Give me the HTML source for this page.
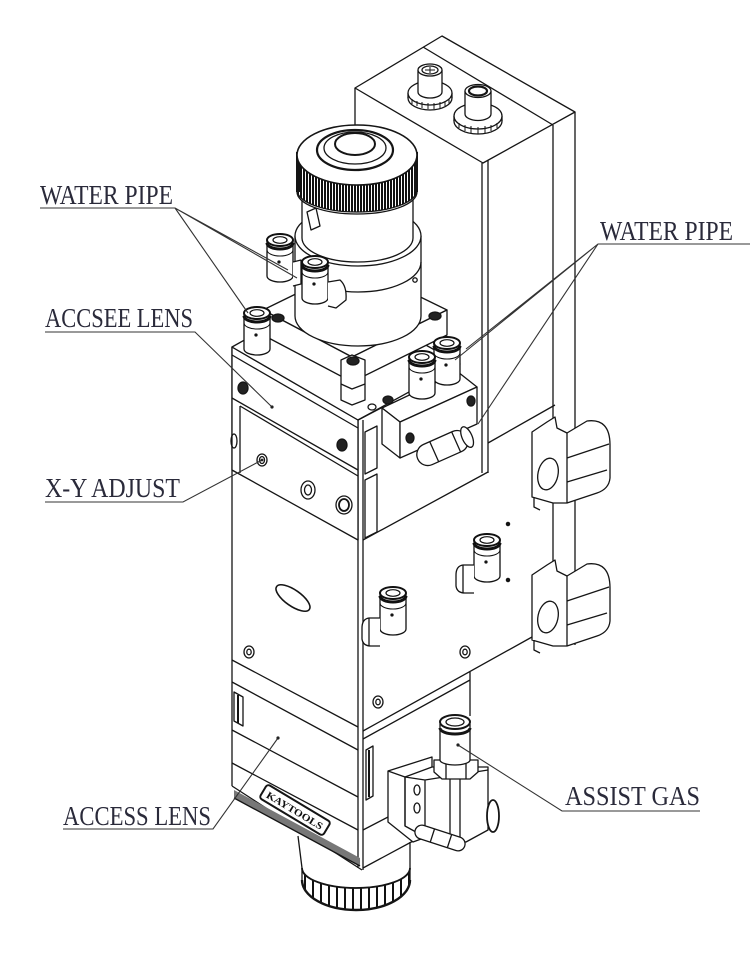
<!DOCTYPE html>
<html><head><meta charset="utf-8"><style>
html,body{margin:0;padding:0;background:#fff;}
svg{display:block;}
</style></head><body>
<svg width="750" height="971" viewBox="0 0 750 971" xmlns="http://www.w3.org/2000/svg">
<defs>
<pattern id="knurl" width="3" height="10" patternUnits="userSpaceOnUse">
 <rect width="3" height="10" fill="#fff"/>
 <rect width="2" height="10" fill="#111"/>
</pattern>
<pattern id="knurl2" width="8" height="10" patternUnits="userSpaceOnUse">
 <rect width="8" height="10" fill="#fff"/>
 <rect width="2" height="10" fill="#111"/>
</pattern>
<g id="fit">
 <path d="M-13,0 L-13,36 A13,6 0 0 0 13,36 L13,0 Z" fill="#fff" stroke="#111" stroke-width="1.3"/>
 <path d="M-13,10 A13,6 0 0 0 13,10" fill="none" stroke="#111" stroke-width="1"/>
 <path d="M-13,3 A13,6 0 0 0 13,3" fill="none" stroke="#111" stroke-width="3"/>
 <ellipse rx="13" ry="6" fill="#fff" stroke="#111" stroke-width="2"/>
 <ellipse rx="7" ry="3.3" fill="#fff" stroke="#111" stroke-width="1.2"/>
 <circle cx="-1" cy="22" r="1" fill="#111"/>
</g>
<g id="clamp">
 <path d="M532,432 L547,422 L555,417 L557,428 L567,433 L587,421 Q610,418 610,445 L610,478 Q609,489 597,493 L567,503 L553,503 L532,497 Z" fill="#fff"/>
 <path d="M567,433 V503 M567,458 L609,444 M567,482 L607,470"/>
 <ellipse cx="548" cy="474" rx="10" ry="16" transform="rotate(12 548 474)" fill="#fff"/>
 <path d="M534,497 L534,507 L540,510"/>
</g>
</defs>

<g fill="none" stroke="#151515" stroke-width="1.3" stroke-linejoin="round">

<!-- rear tall box -->
<polygon points="355,88 442,36 575,112 483,163" fill="#fff"/>
<line x1="423" y1="47" x2="553" y2="125"/>
<path d="M355,88 V170 M482,163 V473 M488,160 V473 M553,125 V645 M575,112 V645"/>

<!-- connectors on top -->
<ellipse cx="430" cy="98" rx="22" ry="12" fill="#fff"/>
<path d="M408,93 V98 M452,93 V98"/>
<ellipse cx="430" cy="93" rx="22" ry="12" fill="#fff"/>
<path d="M412,99 V104 M417,101 V106 M422,102 V108 M428,103 V109 M434,103 V109 M440,102 V108 M445,101 V106 M449,99 V104" stroke-width="1"/>
<path d="M418,70 V92 A12,6 0 0 0 442,92 V70" fill="#fff"/>
<ellipse cx="430" cy="70" rx="12" ry="6" fill="#fff"/>
<ellipse cx="430" cy="70" rx="8" ry="4"/>
<path d="M425,70 H435 M430,67 V73" stroke-width="1"/>

<ellipse cx="478" cy="121" rx="24" ry="13" fill="#fff"/>
<path d="M454,116 V121 M502,116 V121"/>
<ellipse cx="478" cy="116" rx="24" ry="13" fill="#fff"/>
<path d="M459,123 V128 M465,125 V131 M471,126 V133 M478,127 V134 M485,126 V133 M491,125 V131 M497,123 V128" stroke-width="1"/>
<path d="M465,91 V114 A13,6.5 0 0 0 491,114 V91" fill="#fff"/>
<ellipse cx="478" cy="91" rx="13" ry="6.5" fill="#fff"/>
<ellipse cx="478" cy="91" rx="9" ry="4.5" stroke-width="2.2"/>

<!-- right plate / body right face lines -->
<path d="M488,443 L555,405"/>
<path d="M363,540 L488,472 M363,731 L532,637 M363,739 L470,680 M470,672 V716 M363,868 L415,840 M363,830 L390,816"/>

<!-- clamps -->
<use href="#clamp"/>
<use href="#clamp" y="143"/>

<!-- main body left face -->
<path d="M232,347 V786"/>
<path d="M358,420 V868 M363,420 V870"/>
<path d="M232,470 L358,537 M232,660 L358,727 M232,682 L358,750 M232,730 L358,797 M232,763 L358,830 M232,786 L362,870"/>
<polygon points="234,790 360,858 360,866 234,798" fill="#777" stroke="none"/>
<path d="M234,798 L360,866" />

<ellipse cx="293" cy="598" rx="20" ry="8" transform="rotate(35 293 598)" stroke-width="1.6"/>
<ellipse cx="249" cy="652" rx="5" ry="6"/><ellipse cx="249" cy="652" rx="2.2" ry="2.8"/>
<ellipse cx="465" cy="652" rx="5" ry="6"/><ellipse cx="465" cy="652" rx="2.2" ry="2.8"/>
<ellipse cx="378" cy="702" rx="5" ry="6"/><ellipse cx="378" cy="702" rx="2.2" ry="2.8"/>
<circle cx="508" cy="524" r="1.6" fill="#111"/><circle cx="508" cy="580" r="1.6" fill="#111"/>

<polygon points="234,692 243,697 243,726 234,721"/>
<path d="M238,695 V723" stroke-width="2"/>
<polygon points="366,750 373,746 373,796 366,800"/>
<path d="M369,750 V797" stroke-width="2"/>

<g transform="translate(295,810) rotate(31)">
 <rect x="-37" y="-8" width="74" height="16" rx="3" stroke-width="2"/>
 <text x="0" y="4" font-family="Liberation Serif, serif" font-size="10" font-weight="bold" text-anchor="middle" fill="#111" stroke="none" textLength="64" lengthAdjust="spacingAndGlyphs">KAYTOOLS</text>
</g>

<!-- nozzle -->
<path d="M298,836 L302,868 M410,842 V868"/>
<path d="M302,868 A54,20 0 0 0 410,868 L410,880 A54,30 0 0 1 302,880 Z" fill="url(#knurl2)"/>
<path d="M302,880 A54,30 0 0 0 410,880" stroke-width="2.4"/>
<path d="M302,868 A54,20 0 0 0 410,868" stroke-width="1.8"/>

<!-- upper block (accsee lens + xy adjust) -->
<polygon points="232,347 358,420 358,540 232,470" fill="#fff"/>
<polygon points="232,347 330,292 460,364 358,420" fill="#fff"/>
<path d="M232,355 L358,428 M232,398 L358,470 M240,406 L358,476 M240,406 V473"/>
<path d="M358,420 L383,407"/>
<polygon points="365,432 377,426 377,468 365,474"/>
<polygon points="365,480 377,474 377,532 365,538"/>
<ellipse cx="243" cy="388" rx="5" ry="6" fill="#222"/>
<ellipse cx="342" cy="445" rx="5" ry="6" fill="#222"/>
<ellipse cx="234" cy="441" rx="3" ry="7"/>
<ellipse cx="262" cy="460" rx="5" ry="6"/><ellipse cx="262" cy="460" rx="2.5" ry="3.5"/>
<ellipse cx="308" cy="490" rx="7" ry="9"/><ellipse cx="308" cy="490" rx="3.5" ry="5"/>
<ellipse cx="344" cy="505" rx="8" ry="9"/><ellipse cx="344" cy="505" rx="5" ry="6" stroke-width="1.8"/>

<!-- flange -->
<polygon points="263,310 355,265 447,310 352,357" fill="#fff"/>
<polygon points="263,310 352,357 352,382 263,335" fill="#fff"/>
<polygon points="352,357 447,310 447,335 352,382" fill="#fff"/>
<polygon points="341,360 352,355 365,360 365,400 352,405 341,400" fill="#fff"/>
<path d="M341,384 L352,389 L365,384"/>
<ellipse cx="353" cy="361" rx="6" ry="4" fill="#222"/>
<ellipse cx="278" cy="318" rx="6" ry="4" fill="#222"/>
<ellipse cx="435" cy="316" rx="6" ry="4" fill="#222"/>
<ellipse cx="258" cy="340" rx="5" ry="3.5"/>
<ellipse cx="372" cy="407" rx="4" ry="3"/>

<!-- water block -->
<polygon points="382,408 458,372 477,387 400,422" fill="#fff"/>
<polygon points="382,408 400,422 400,458 382,444" fill="#fff"/>
<polygon points="400,422 477,387 477,424 400,458" fill="#fff"/>
<ellipse cx="410" cy="438" rx="4" ry="5" fill="#222"/>
<ellipse cx="471" cy="401" rx="4" ry="5" fill="#222"/>
<ellipse cx="388" cy="400" rx="5" ry="4" fill="#222"/>
<g transform="translate(447,446) rotate(-24)">
 <rect x="-32" y="-11" width="54" height="22" rx="11" fill="#fff"/>
 <ellipse cx="22" cy="0" rx="5" ry="11" fill="#fff"/>
 <path d="M-14,-11 V11 M10,-11 V11"/>
</g>

<!-- lens cylinder -->
<path d="M295,236 V316 A63,30 0 0 0 421,316 V236 Z" fill="#fff"/>
<ellipse cx="358" cy="236" rx="63" ry="30" fill="#fff"/>
<path d="M295,262 A63,30 0 0 0 421,262"/>
<circle cx="415" cy="280" r="2.2"/>
<path d="M302,192 V238 A55.5,24 0 0 0 413,238 V192 Z" fill="#fff"/>
<path d="M297,157 V192 A60,22 0 0 0 417,192 V157 Z" fill="#fff"/>
<path d="M297,155 A60,30 0 0 0 417,155 L417,190 A60,22 0 0 1 297,190 Z" fill="url(#knurl)"/>
<path d="M298,152 V192 M416,152 V192" stroke-width="4"/>
<ellipse cx="357" cy="155" rx="60" ry="30" fill="#fff" stroke-width="1.6"/>
<ellipse cx="355" cy="150" rx="38" ry="20" fill="#fff" stroke-width="2.2"/>
<ellipse cx="355" cy="148" rx="31" ry="16"/>
<ellipse cx="355" cy="144" rx="20" ry="11" stroke-width="2"/>
<path d="M307,212 L316,208 L320,226 L311,230 Z" fill="#fff"/>

<!-- fittings -->
<use href="#fit" x="280" y="240"/>
<path d="M293,262 L301,260 L301,284 L293,286" fill="#fff"/>
<use href="#fit" x="315" y="262"/>
<path d="M328,282 L340,280 Q347,286 346,300 L336,308 L328,306" fill="#fff"/>
<use href="#fit" x="257" y="313"/>
<use href="#fit" x="447" y="343"/>
<use href="#fit" x="422" y="357"/>
<use href="#fit" x="487" y="540"/>
<path d="M474,565 L463,565 Q456,566 456,575 L456,586 Q457,593 465,593 L474,593" fill="#fff"/>
<path d="M463,565 V593"/>
<use href="#fit" x="393" y="593"/>
<path d="M380,618 L369,618 Q362,619 362,628 L362,639 Q363,646 371,646 L380,646" fill="#fff"/>
<path d="M369,618 V646"/>

<!-- assist gas block -->
<polygon points="388,771 432,757 432,835 413,842 388,822" fill="#fff"/>
<polygon points="405,777 432,767 488,767 488,830 466,842 425,837 405,826" fill="#fff"/>
<path d="M388,771 L405,777 V826 M425,780 V837 M405,777 L425,780 L488,770"/>
<path d="M450,778 V840 M460,777 V840"/>
<ellipse cx="417" cy="790" rx="3" ry="5"/>
<ellipse cx="417" cy="808" rx="3" ry="5"/>
<ellipse cx="493" cy="816" rx="6" ry="16" fill="#fff" stroke-width="1.8"/>
<g transform="translate(440,838) rotate(18)">
 <rect x="-26" y="-7" width="52" height="14" rx="7" fill="#fff"/>
 <path d="M-8,-7 V7 M10,-7 V7"/>
</g>
<path d="M434,760 V772 L442,779 H470 L478,772 V760 Z" fill="#fff"/>
<path d="M446,762 V779 M466,762 V779"/>
<path d="M440,724 V760 A15,5 0 0 0 470,760 V724" fill="#fff"/>
<path d="M440,728 A15,6 0 0 0 470,728" stroke-width="3"/>
<ellipse cx="455" cy="722" rx="15" ry="7" fill="#fff" stroke-width="2"/>
<ellipse cx="455" cy="722" rx="9" ry="4"/>
</g>

<!-- leaders -->
<g stroke="#333" stroke-width="1.1" fill="none">
 <path d="M40,208 H175 L288,270 M175,208 L297,278 M175,208 L248,313"/>
 <path d="M45,332 H195 L272,407"/>
 <path d="M45,502 H183 L262,460"/>
 <path d="M63,829 H213 L278,738"/>
 <path d="M750,244 H598 L455,360 M598,244 L466,349 M598,244 L478,424"/>
 <path d="M700,811 H562 L458,745"/>
</g>
<g fill="#222">
 <circle cx="272" cy="407" r="1.6"/>
 <circle cx="278" cy="738" r="1.6"/>
 <circle cx="458" cy="745" r="1.6"/>
 <circle cx="262" cy="460" r="1.4"/>
</g>

<!-- labels -->
<g font-family="Liberation Serif, serif" font-size="27" fill="#2a2a3a">
 <text x="40" y="204" textLength="133" lengthAdjust="spacingAndGlyphs">WATER PIPE</text>
 <text x="45" y="327" textLength="148" lengthAdjust="spacingAndGlyphs">ACCSEE LENS</text>
 <text x="45" y="497" textLength="135" lengthAdjust="spacingAndGlyphs">X-Y ADJUST</text>
 <text x="63" y="825" textLength="148" lengthAdjust="spacingAndGlyphs">ACCESS LENS</text>
 <text x="600" y="240" textLength="133" lengthAdjust="spacingAndGlyphs">WATER PIPE</text>
 <text x="565" y="805" textLength="135" lengthAdjust="spacingAndGlyphs">ASSIST GAS</text>
</g>
</svg>
</body></html>
